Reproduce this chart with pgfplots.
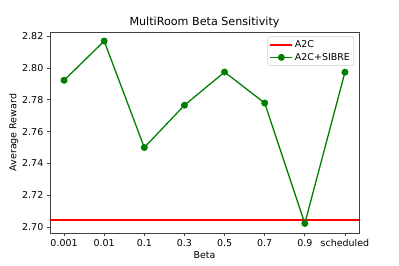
\documentclass[border=0pt]{standalone}
\usepackage{pgfplots}
\pgfplotsset{compat=1.18}
\usepackage{fontspec}
\setmainfont{DejaVu Sans}
\definecolor{mplgreen}{rgb}{0,0.5,0}
\definecolor{mplred}{rgb}{1,0,0}
\begin{document}
\begin{tikzpicture}
\begin{axis}[
  scale only axis,
  width=309bp, height=201bp,
  xmin=-0.35, xmax=7.35,
  ymin=2.6962, ymax=2.8227,
  xtick={0,1,2,3,4,5,6,7},
  xticklabels={0.001,0.01,0.1,0.3,0.5,0.7,0.9,scheduled},
  ytick={2.70,2.72,2.74,2.76,2.78,2.80,2.82},
  yticklabel style={/pgf/number format/.cd,fixed,fixed zerofill,precision=2},
  /pgf/number format/assume math mode=true,
  tick label style={font=\fontsize{9.5}{10}\selectfont},
  label style={font=\fontsize{9.5}{10}\selectfont},
  title style={font=\fontsize{11.2}{12}\selectfont, yshift=-5.5bp},
  title={MultiRoom Beta Sensitivity},
  xlabel={Beta}, ylabel={Average Reward},
  xlabel style={yshift=2bp},
  ylabel style={yshift=-3bp},
  tick align=outside, tick pos=left,
  major tick length=3.2bp,
  axis line style={black!75, line width=0.7bp},
  every tick/.style={black!75, line width=0.7bp},
  legend style={at={(rel axis cs:0.984,0.978)}, anchor=north east,
    font=\fontsize{9.5}{10}\selectfont, draw=black!20, rounded corners=1.5bp,
    row sep=0bp, inner sep=2bp},
  legend cell align=left,
  legend image code/.code={\draw[#1] (0bp,0bp) -- (22bp,0bp); \draw[#1,only marks] plot coordinates {(11bp,0bp)};},
]
\addlegendimage{mplred, line width=1.3bp, no markers}
\addlegendentry{A2C}
\addplot[red, line width=1.5bp, forget plot] coordinates {(-0.35,2.7045) (7.35,2.7045)};
\addplot[mplgreen, line width=1.3bp, mark=*, mark size=2.8bp, mark options={solid, fill=mplgreen}] coordinates {
 (0,2.7923) (1,2.8170) (2,2.7500) (3,2.7766) (4,2.7975) (5,2.7780) (6,2.7022) (7,2.7974)};
\addlegendentry{A2C+SIBRE}
\coordinate (ll) at (rel axis cs:0,0);
\coordinate (ur) at (rel axis cs:1,1);
\end{axis}
\pgfresetboundingbox
\path[use as bounding box] ([xshift=-50bp,yshift=-33bp]ll) rectangle ([xshift=40bp,yshift=32bp]ur);
\end{tikzpicture}
\end{document}
